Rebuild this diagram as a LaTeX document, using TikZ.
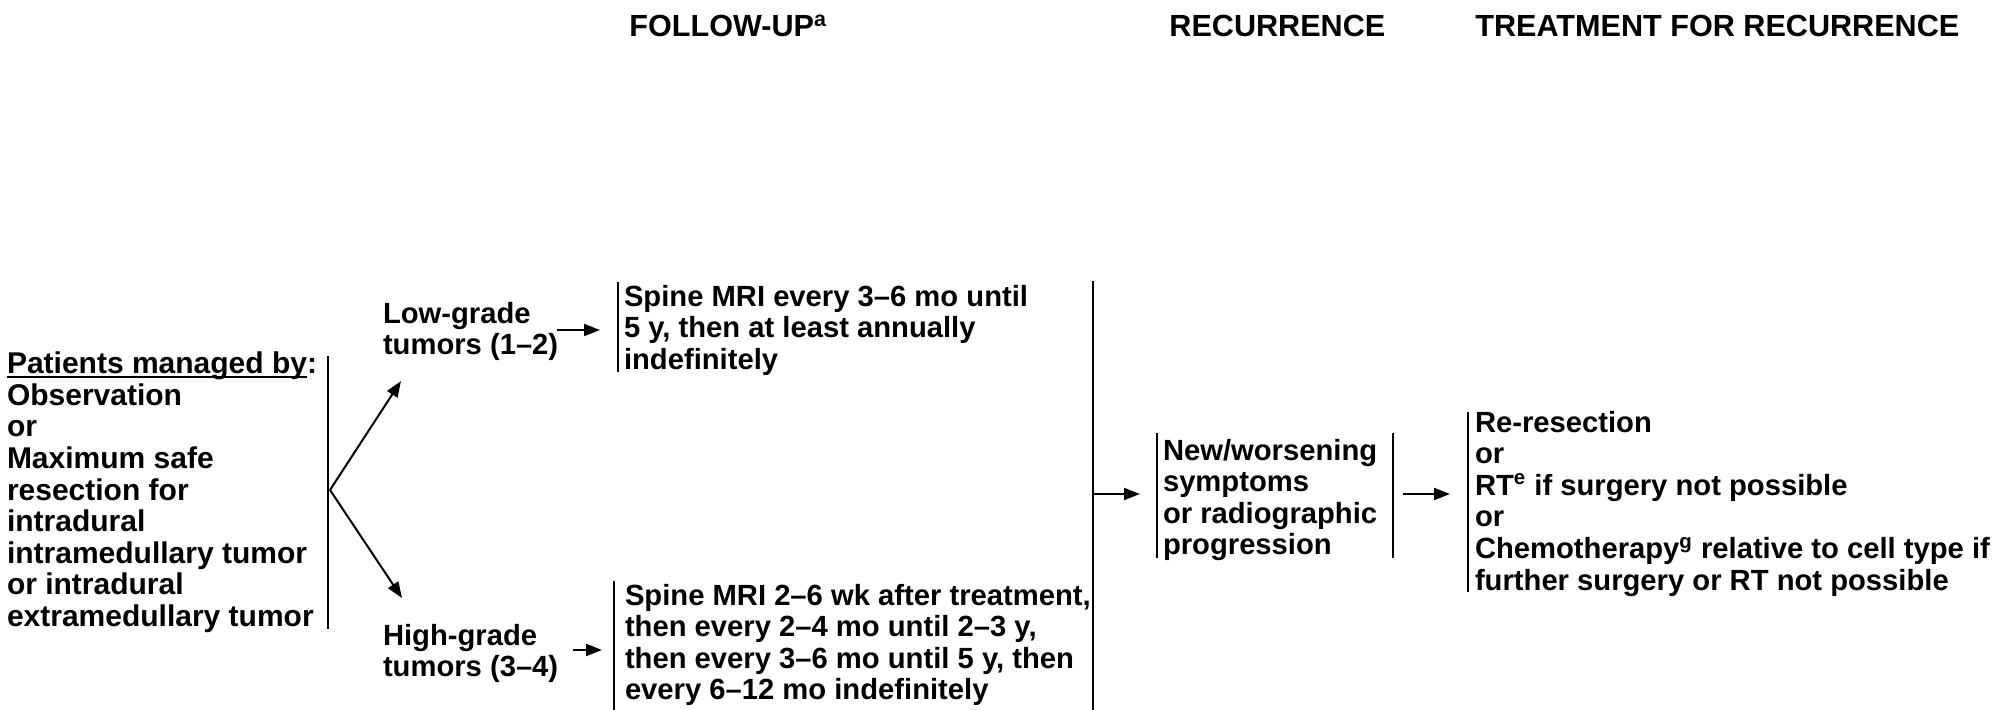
\documentclass[tikz,border=0pt]{standalone}
\usepackage{fontspec}
\setmainfont{Liberation Sans}
\usetikzlibrary{arrows.meta,calc}
% underline sitting just under the baseline, through the descenders
\newsavebox\ulbox
\newcommand\ulword[1]{\sbox\ulbox{#1}\rlap{\rule[-2.2pt]{\wd\ulbox}{0.9pt}}\usebox\ulbox}
\begin{document}
\begin{tikzpicture}[x=0.5pt,y=-0.5pt,
  txt/.style={font=\fontsize{14.6}{15.8}\selectfont\bfseries, inner sep=0pt, outer sep=0pt, align=left, anchor=north west},
  bigtxt/.style={txt, font=\fontsize{15}{15.8}\selectfont\bfseries},
  hdr/.style={font=\fontsize{15.3}{16}\selectfont\bfseries, inner sep=0pt, anchor=base west},
  bar/.style={line width=1.1pt},
  arr/.style={line width=1pt, -{Triangle[length=8pt,width=6pt]}}]
\useasboundingbox (0,0) rectangle (2001,710);

% column headings
\node[hdr] (hfu)  at (629,37)  {FOLLOW-UP\textsuperscript{a}};
\node[hdr] (hrec) at (1169,37) {RECURRENCE};
\node[hdr] (htr)  at (1475,37) {TREATMENT FOR RECURRENCE};

% patients managed
\node[bigtxt] (pat) at (7,352) {\ulword{Patients managed by}:\\Observation\\or\\Maximum safe\\resection for\\intradural\\intramedullary tumor\\or intradural\\extramedullary tumor};
\coordinate (patT) at (328,356);
\coordinate (patB) at (328,629);
\draw[bar] (patT) -- (patB);
\coordinate (patM) at (330,490);

% grade branches
\node[txt] (low)  at (383,302) {Low-grade\\tumors (1–2)};
\node[txt] (high) at (383,624) {High-grade\\tumors (3–4)};
\coordinate (lowIn)  at (401,381);
\coordinate (highIn) at (402,598);
\draw[arr] (patM) -- (lowIn);
\draw[arr] (patM) -- (highIn);

% follow-up schedules
\node[txt] (lowfu) at (624,285) {Spine MRI every 3–6 mo until\\5 y, then at least annually\\indefinitely};
\coordinate (lowfuT) at (618,282);
\coordinate (lowfuB) at (618,372);
\draw[bar] (lowfuT) -- (lowfuB);
\coordinate (lowOut) at (557,330);
\coordinate (lowfuIn) at (600,330);
\draw[arr] (lowOut) -- (lowfuIn);

\node[txt] (highfu) at (625,584) {Spine MRI 2–6 wk after treatment,\\then every 2–4 mo until 2–3 y,\\then every 3–6 mo until 5 y, then\\every 6–12 mo indefinitely};
\coordinate (highfuT) at (614,581);
\coordinate (highfuB) at (614,710);
\draw[bar] (highfuT) -- (highfuB);
\coordinate (highOut) at (573,650);
\coordinate (highfuIn) at (602,650);
\draw[arr] (highOut) -- (highfuIn);

% collecting bar
\coordinate (fuT) at (1093,281);
\coordinate (fuB) at (1093,710);
\draw[bar] (fuT) -- (fuB);

% recurrence
\node[txt] (rec) at (1163,439) {New/worsening\\symptoms\\or radiographic\\progression};
\coordinate (recLT) at (1157,433);
\coordinate (recLB) at (1157,558);
\coordinate (recRT) at (1393,433);
\coordinate (recRB) at (1393,558);
\draw[bar] (recLT) -- (recLB);
\draw[bar] (recRT) -- (recRB);
\coordinate (fuOut) at (1093,494);
\coordinate (recIn) at (1140,494);
\draw[arr] (fuOut) -- (recIn);

% treatment
\node[txt] (tr) at (1475,411) {Re-resection\\or\\RT\textsuperscript{e} if surgery not possible\\or\\Chemotherapy\textsuperscript{g} relative to cell type if\\further surgery or RT not possible};
\coordinate (trT) at (1468,412);
\coordinate (trB) at (1468,592);
\draw[bar] (trT) -- (trB);
\coordinate (recOut) at (1403,494);
\coordinate (trIn) at (1450,494);
\draw[arr] (recOut) -- (trIn);
\end{tikzpicture}
\end{document}
